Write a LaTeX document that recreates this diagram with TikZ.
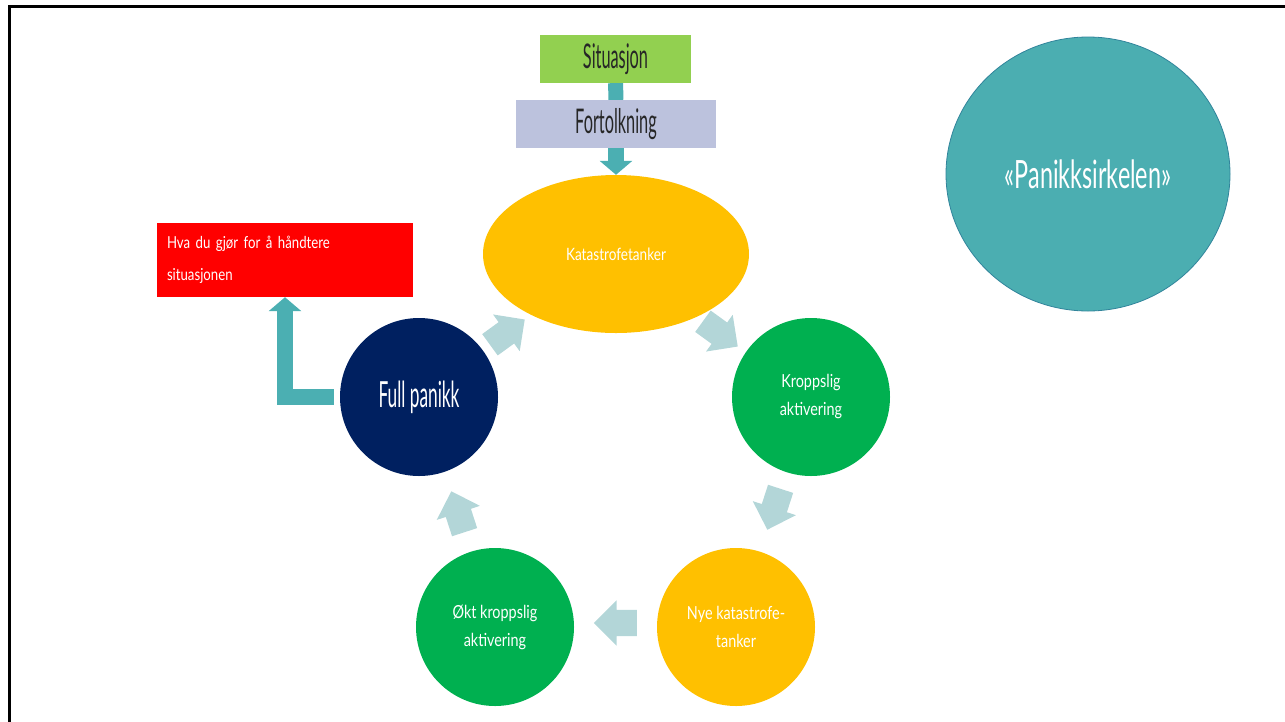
\documentclass[tikz,border=0pt]{standalone}
\usepackage{fontspec}
\setmainfont{Lato}[FakeStretch=0.8]
\newfontfamily\narrowfont{Lato}[FakeStretch=0.48]
\newfontfamily\titlefont{Lato}[FakeStretch=0.6]
\usetikzlibrary{arrows.meta, shapes.geometric, shapes.arrows}
\definecolor{sitgreen}{HTML}{92D050}
\definecolor{fortlilac}{HTML}{BCC2DD}
\definecolor{katyellow}{HTML}{FFC000}
\definecolor{ringgreen}{HTML}{00B050}
\definecolor{fullnavy}{HTML}{002060}
\definecolor{hvared}{HTML}{FF0000}
\definecolor{flowteal}{HTML}{4BAFB2}
\definecolor{panteal}{HTML}{4BAEB1}
\definecolor{panedge}{HTML}{31849B}
\definecolor{cyclight}{HTML}{B3D6D8}
\tikzset{
  frame/.style={line width=3pt, line join=miter, draw=black},
  topbox/.style={minimum height=48pt, inner sep=0pt, text=black!85,
                 font=\narrowfont\fontsize{34}{36}\selectfont},
  ring/.style={circle, minimum size=158pt, inner sep=0pt, align=center, text=white,
               font=\fontsize{18}{28}\selectfont},
  shaft/.style={line width=15pt, draw=flowteal},
  flow/.style={line width=15.5pt, draw=flowteal, line join=miter,
               -{Triangle[width=32pt, length=14pt]}},
  cyc/.style={single arrow, fill=cyclight, draw=none, inner xsep=0pt, inner ysep=13pt,
              minimum height=43pt, single arrow head extend=9.5pt},
}

\begin{document}
\begin{tikzpicture}[x=1pt, y=-1pt]
  \useasboundingbox (0,0) rectangle (1285,721);
  \draw[frame] (1290,6) -- (9.5,6) -- (9.5,730);
  % top of the cycle
  \node (sit) [topbox, fill=sitgreen, minimum width=151pt] at (615.5,59) {Situasjon};
  \node (fort) [topbox, fill=fortlilac, minimum width=200pt] at (616,124) {Fortolkning};
  \node (kat) [ellipse, fill=katyellow, minimum width=266pt, minimum height=158pt,
               inner sep=0pt, text=white, font=\fontsize{17}{19}\selectfont] at (616,254) {Katastrofetanker};
  % the ring
  \node (kropp) [ring, fill=ringgreen] at (811,397) {Kroppslig\\aktivering};
  \node (nye) [ring, fill=katyellow] at (736,627) {Nye katastrofe-\\tanker};
  \node (okt) [ring, fill=ringgreen] at (495,627) {Økt kroppslig\\aktivering};
  \node (full) [ring, fill=fullnavy, font=\narrowfont\fontsize{36}{38}\selectfont] at (419,397) {Full panikk};
  % title and exit box
  \node (pan) [ellipse, fill=panteal, draw=panedge, line width=0.8pt, minimum width=284pt,
               minimum height=274pt, text=white, font=\titlefont\fontsize{39}{41}\selectfont] at (1088,174) {«Panikksirkelen»};
  \node (hva) [fill=hvared, minimum width=256pt, minimum height=74pt, text width=236pt,
               inner sep=10pt, align=left, text=white, font=\fontsize{16.5}{32}\selectfont] at (285,260)
               {Hva du gjør for å håndtere\\situasjonen};
  \draw[shaft] (sit) -- (fort);
  \draw[flow] (fort) -- (kat);
  \draw[flow] ([xshift=-6pt]full.west) -| (hva);
  % arrows between the circles
  \node (c1) [cyc, rotate=-36] at (715,330) {};
  \node (c2) [cyc, rotate=-108] at (776,503) {};
  \node (c3) [cyc, rotate=180] at (622,623) {};
  \node (c4) [cyc, rotate=108] at (460,518) {};
  \node (c5) [cyc, rotate=36] at (502,336) {};
\end{tikzpicture}
\end{document}
